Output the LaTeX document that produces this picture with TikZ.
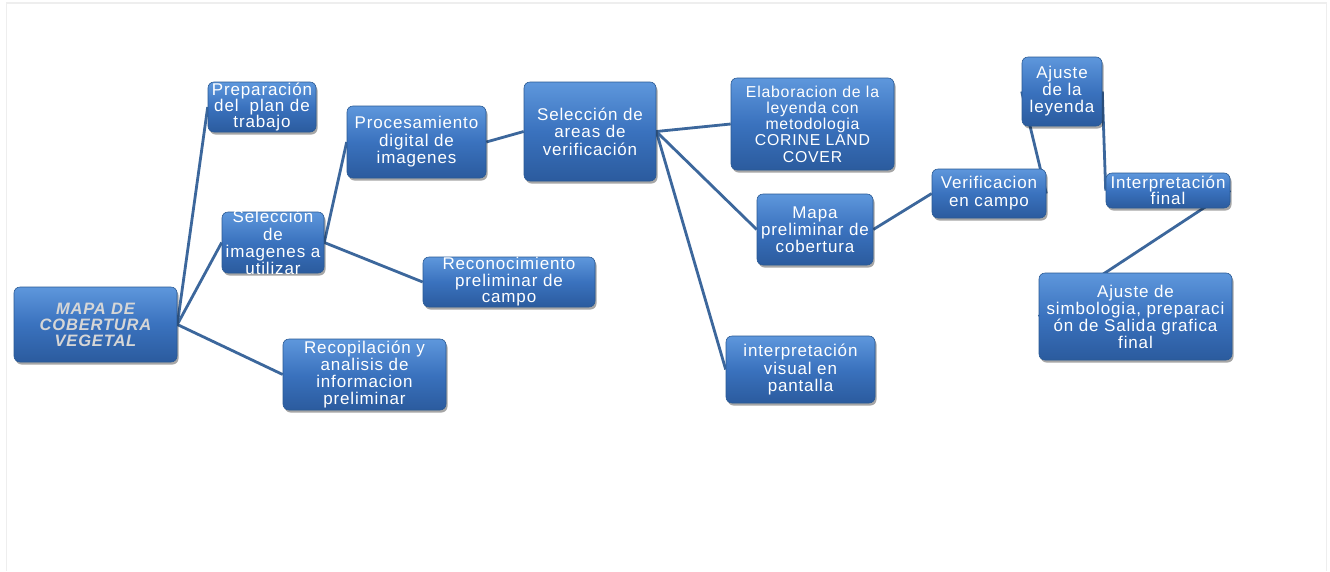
\documentclass[tikz,border=0pt]{standalone}
\usepackage{fontspec}
\setmainfont{Liberation Sans}
\newfontfamily\bxfont[LetterSpace=5]{Liberation Sans}
\usetikzlibrary{shadows,backgrounds}
\definecolor{boxtop}{HTML}{5E97DC}
\definecolor{boxmid}{HTML}{3A72BE}
\definecolor{boxbot}{HTML}{2B5B9E}
\definecolor{boxedge}{HTML}{2A5A94}
\definecolor{linkc}{HTML}{3C679C}
\definecolor{framec}{HTML}{EEEEEE}
\definecolor{mapatext}{HTML}{D6D6D6}
\tikzset{
  mbox/.style={draw=boxedge, line width=0.6pt, rounded corners=6pt,
    top color=boxtop, bottom color=boxbot, middle color=boxmid,
    drop shadow={shadow xshift=1.5pt, shadow yshift=-2.5pt, opacity=0.35, fill=black},
    inner sep=0pt},
  mtxt/.style={text=white, align=center, inner sep=0pt,
    font=\bxfont\fontsize{17}{17}\selectfont},
  link/.style={draw=linkc, line width=2.8pt}
}
\begin{document}
\begin{tikzpicture}[x=1pt,y=-1pt]
\useasboundingbox (0,0) rectangle (1330,571);

% boxes
\node[mbox, minimum width=163pt, minimum height=75pt] (mapa) at (95.5,324.5) {};
\node[mtxt, text=mapatext, font=\bxfont\bfseries\itshape\fontsize{16.5}{16}\selectfont] (mapa-t) at (mapa.center) {MAPA DE\\COBERTURA\\VEGETAL};

\node[mbox, minimum width=108pt, minimum height=50pt] (prep) at (262,107) {};
\node[mtxt, font=\bxfont\fontsize{17}{16}\selectfont] (prep-t) at (prep.center) {Preparación\\del\ \ plan de\\trabajo};

\node[mbox, minimum width=102pt, minimum height=61pt] (selimg) at (273,242.5) {};
\node[mtxt, font=\bxfont\fontsize{17}{17.2}\selectfont] (selimg-t) at (selimg.center) {Selección\\de\\imagenes a\\utilizar};

\node[mbox, minimum width=163pt, minimum height=71pt] (recop) at (364.5,374.5) {};
\node[mtxt, font=\bxfont\fontsize{17}{16.7}\selectfont] (recop-t) at (recop.center) {Recopilación y\\analisis de\\informacion\\preliminar};

\node[mbox, minimum width=139pt, minimum height=72pt] (proc) at (416.5,142) {};
\node[mtxt, font=\bxfont\fontsize{17}{17.5}\selectfont] (proc-t) at (proc.center) {Procesamiento\\digital de\\imagenes};

\node[mbox, minimum width=172pt, minimum height=50pt] (recon) at (509,282) {};
\node[mtxt, font=\bxfont\fontsize{17}{16.5}\selectfont] (recon-t) at (recon.center) {Reconocimiento\\preliminar de\\campo};

\node[mbox, minimum width=132pt, minimum height=99pt] (selarea) at (590,131.5) {};
\node[mtxt, font=\bxfont\fontsize{17}{17.5}\selectfont] (selarea-t) at (selarea.center) {Selección de\\areas de\\verificación};

\node[mbox, minimum width=163pt, minimum height=92pt] (elab) at (812.5,124) {};
\node[mtxt, font=\bxfont\fontsize{15.8}{16.25}\selectfont] (elab-t) at (elab.center) {Elaboracion de la\\leyenda con\\metodologia\\CORINE LAND\\COVER};

\node[mbox, minimum width=116pt, minimum height=71pt] (mapap) at (815,229.5) {};
\node[mtxt, font=\bxfont\fontsize{17}{17}\selectfont] (mapap-t) at (mapap.center) {Mapa\\preliminar de\\cobertura};

\node[mbox, minimum width=149pt, minimum height=67pt] (intvis) at (800.5,369.5) {};
\node[mtxt, font=\bxfont\fontsize{17}{17.5}\selectfont] (intvis-t) at (intvis.center) {interpretación\\visual en\\pantalla};

\node[mbox, minimum width=114pt, minimum height=49pt] (verif) at (989,193.5) {};
\node[mtxt, font=\bxfont\fontsize{17}{18}\selectfont] (verif-t) at (verif.center) {Verificacion\\en campo};

\node[mbox, minimum width=80pt, minimum height=69pt] (ajley) at (1062,91.5) {};
\node[mtxt, font=\bxfont\fontsize{17}{17}\selectfont] (ajley-t) at (ajley.center) {Ajuste\\de la\\leyenda};

\node[mbox, minimum width=124pt, minimum height=35pt] (intfin) at (1168,190.5) {};
\node[mtxt, font=\bxfont\fontsize{17}{16.5}\selectfont] (intfin-t) at (intfin.center) {Interpretación\\final};

\node[mbox, minimum width=193pt, minimum height=87pt] (ajsim) at (1135.5,316.5) {};
\node[mtxt, font=\bxfont\fontsize{17}{17}\selectfont] (ajsim-t) at (ajsim.center) {Ajuste de\\simbologia, preparaci\\ón de Salida grafica\\final};

% background, frame and connectors
\begin{pgfonlayer}{background}
\fill[white] (0,0) rectangle (1330,571);
\draw[framec, line width=1.6pt] (6.5,571) -- (6.5,3) -- (1326.5,3) -- (1326.5,571);
\draw[link] (mapa.east) -- (prep.west);
\draw[link] (mapa.east) -- (selimg.west);
\draw[link] (mapa.east) -- (recop.west);
\draw[link] (selimg.east) -- (proc.west);
\draw[link] (selimg.east) -- (recon.west);
\draw[link] (proc.east) -- (selarea.west);
\draw[link] (selarea.east) -- (elab.west);
\draw[link] (selarea.east) -- (mapap.west);
\draw[link] (selarea.east) -- (intvis.west);
\draw[link] (mapap.east) -- (verif.west);
\draw[link] (verif.east) -- (ajley.west);
\draw[link] (ajley.east) -- (intfin.west);
\draw[link] (intfin.east) -- (ajsim.west);
\end{pgfonlayer}
\end{tikzpicture}
\end{document}
